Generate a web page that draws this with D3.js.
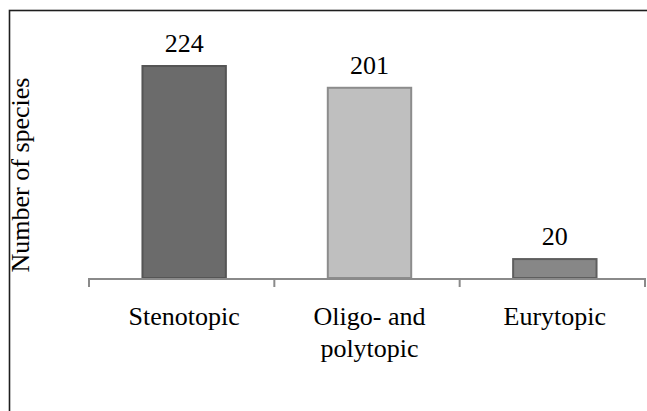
<!DOCTYPE html>
<html>
<head>
<meta charset="utf-8">
<script src="https://cdn.jsdelivr.net/npm/d3@7"></script>
<style>
  html, body { margin: 0; padding: 0; background: #fff; }
  svg { display: block; }
  text { font-family: "Liberation Serif", "Times New Roman", serif; fill: #000; }
</style>
</head>
<body>
<script>
// Species counts by habitat range
const categories = ["Stenotopic", "Oligo- and polytopic", "Eurytopic"];
const categoryLines = [["Stenotopic"], ["Oligo- and", "polytopic"], ["Eurytopic"]];
const speciesCounts = [224, 201, 20];
const barFills = ["#6b6b6b", "#bfbfbf", "#878787"];
const barStrokes = ["#555555", "#8c8c8c", "#5e5e5e"];
const yTitle = "Number of species";

const W = 647, H = 411;
const svg = d3.select("body").append("svg").attr("width", W).attr("height", H);

// outer frame (runs past the right and bottom edges)
svg.append("rect")
  .attr("x", 9.5).attr("y", 10.5)
  .attr("width", W + 20).attr("height", H + 20)
  .attr("fill", "none").attr("stroke", "#1e1e1e").attr("stroke-width", 1.6);

const plot = { left: 89, right: 645, top: 41.4, bottom: 278 };

const x = d3.scaleBand().domain(categories).range([plot.left, plot.right]).padding(0);
const y = d3.scaleLinear().domain([0, 250]).range([plot.bottom, plot.top]);

const barW = x.bandwidth() * 0.45;
const shift = 2.5;

// bars
svg.append("g").selectAll("rect")
  .data(categories)
  .join("rect")
  .attr("x", (c) => x(c) + (x.bandwidth() - barW) / 2 + shift)
  .attr("y", (c, i) => y(speciesCounts[i]))
  .attr("width", barW)
  .attr("height", (c, i) => y(0) - y(speciesCounts[i]))
  .attr("fill", (c, i) => barFills[i])
  .attr("stroke", (c, i) => barStrokes[i])
  .attr("stroke-width", 2);

// value labels
svg.append("g").selectAll("text")
  .data(categories)
  .join("text")
  .attr("x", (c) => x(c) + x.bandwidth() / 2 + shift)
  .attr("y", (c, i) => y(speciesCounts[i]) - 14)
  .attr("text-anchor", "middle")
  .attr("font-size", 26)
  .text((c, i) => speciesCounts[i]);

// category axis with ticks on band boundaries
const axisG = svg.append("g");
axisG.append("line")
  .attr("x1", plot.left).attr("x2", plot.right)
  .attr("y1", plot.bottom + 1).attr("y2", plot.bottom + 1)
  .attr("stroke", "#8a8a8a").attr("stroke-width", 2);
const boundaries = categories.map((c) => x(c)).concat([x(categories[categories.length - 1]) + x.bandwidth()]);
axisG.selectAll("line.tick")
  .data(boundaries)
  .join("line")
  .attr("class", "tick")
  .attr("x1", (d) => d).attr("x2", (d) => d)
  .attr("y1", plot.bottom).attr("y2", plot.bottom + 9)
  .attr("stroke", "#8a8a8a").attr("stroke-width", 2);

// category labels
const labels = svg.append("g").selectAll("text")
  .data(categories)
  .join("text")
  .attr("x", (c) => x(c) + x.bandwidth() / 2 + shift)
  .attr("y", 325)
  .attr("text-anchor", "middle")
  .attr("font-size", 26);
labels.each(function (c, i) {
  const t = d3.select(this);
  categoryLines[i].forEach((line, j) => {
    t.append("tspan")
      .attr("x", x(c) + x.bandwidth() / 2 + shift)
      .attr("dy", j === 0 ? 0 : 32)
      .text(line);
  });
});

// y-axis title
svg.append("text")
  .attr("transform", "translate(29,175) rotate(-90)")
  .attr("text-anchor", "middle")
  .attr("font-size", 26)
  .text(yTitle);
</script>
</body>
</html>
